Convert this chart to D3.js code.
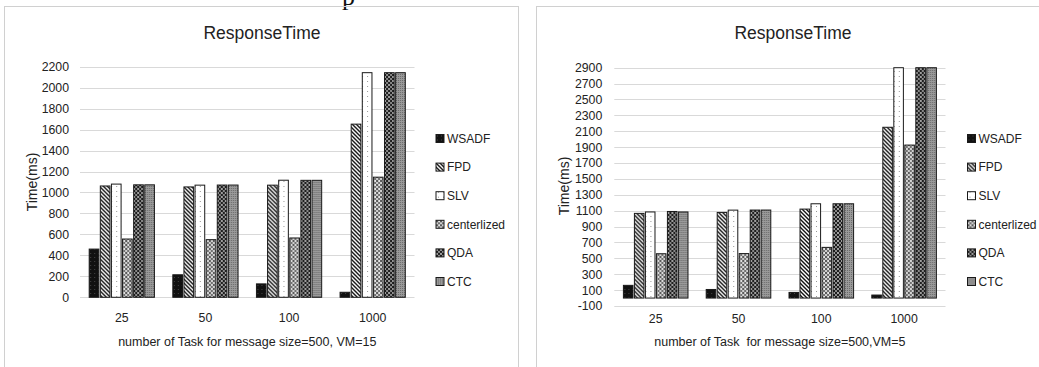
<!DOCTYPE html>
<html>
<head>
<meta charset="utf-8">
<script src="https://cdn.jsdelivr.net/npm/d3@7"></script>
<style>
  body { margin: 0; background: #fff; }
  svg { display: block; font-family: "Liberation Sans", Arial, sans-serif; }
</style>
</head>
<body>
<script>
// categories and series
const categories = ["25", "50", "100", "1000"];
const seriesNames = ["WSADF", "FPD", "SLV", "centerlized", "QDA", "CTC"];

// VM=15 (left chart)
const wsadf15 = [460, 215, 128, 48];
const fpd15 = [1062, 1053, 1070, 1652];
const slv15 = [1080, 1070, 1117, 2143];
const centr15 = [556, 550, 566, 1146];
const qda15 = [1073, 1071, 1116, 2143];
const ctc15 = [1073, 1071, 1116, 2143];
const ticks15 = [0, 200, 400, 600, 800, 1000, 1200, 1400, 1600, 1800, 2000, 2200];

// VM=5 (right chart)
const wsadf5 = [160, 108, 71, 38];
const fpd5 = [1066, 1078, 1120, 2150];
const slv5 = [1084, 1107, 1187, 2900];
const centr5 = [558, 560, 638, 1926];
const qda5 = [1090, 1108, 1187, 2900];
const ctc5 = [1084, 1108, 1187, 2900];
const ticks5 = [-100, 100, 300, 500, 700, 900, 1100, 1300, 1500, 1700, 1900, 2100, 2300, 2500, 2700, 2900];

const W = 1039, H = 367;
const svg = d3.select("body").append("svg")
  .attr("width", W)
  .attr("height", H);

// fill patterns, one per series
const defs = svg.append("defs");

function pat(id, size, bg) {
  const p = defs.append("pattern")
    .attr("id", id)
    .attr("patternUnits", "userSpaceOnUse")
    .attr("width", size).attr("height", size);
  p.append("rect").attr("width", size).attr("height", size).attr("fill", bg);
  return p;
}

// WSADF: black with faint specks
let p = pat("p-wsadf", 4, "#111");
p.append("rect").attr("x", 1).attr("y", 1).attr("width", 1).attr("height", 1).attr("fill", "#444");

// FPD: wide downward diagonal
p = pat("p-fpd", 4, "#fff");
p.append("path")
  .attr("d", "M-1,-1 L5,5 M-1,3 L1,5 M3,-1 L5,1")
  .attr("stroke", "#111").attr("stroke-width", 1.4);

// SLV: white with sparse dots
p = pat("p-slv", 5, "#fff");
p.append("rect").attr("x", 2).attr("y", 1).attr("width", 1).attr("height", 1).attr("fill", "#999");

// centerlized: medium speckle
p = pat("p-centr", 4, "#cfcfcf");
p.append("circle").attr("cx", 1).attr("cy", 1).attr("r", 0.9).attr("fill", "#222");
p.append("circle").attr("cx", 3).attr("cy", 3).attr("r", 0.9).attr("fill", "#444");
p.append("rect").attr("x", 3).attr("y", 0.5).attr("width", 1).attr("height", 1).attr("fill", "#fff");

// QDA: dark with white dots
p = pat("p-qda", 4, "#1e1e1e");
p.append("circle").attr("cx", 1).attr("cy", 1).attr("r", 0.9).attr("fill", "#ddd");
p.append("circle").attr("cx", 3).attr("cy", 3).attr("r", 0.9).attr("fill", "#bbb");

// CTC: fine grey texture
p = pat("p-ctc", 2, "#9a9a9a");
p.append("rect").attr("width", 1).attr("height", 1).attr("fill", "#6a6a6a");

const fills = d3.scaleOrdinal()
  .domain(seriesNames)
  .range(["p-wsadf", "p-fpd", "p-slv", "p-centr", "p-qda", "p-ctc"].map(id => `url(#${id})`));

// cut-off heading fragment above the charts
svg.append("text")
  .attr("x", 342).attr("y", 5)
  .attr("font-family", "Liberation Serif, serif")
  .attr("font-size", 26)
  .attr("fill", "#111")
  .text("p");

function drawChart(cfg) {
  const g = svg.append("g");

  // chart frame
  g.append("rect")
    .attr("x", cfg.frame[0] + 0.5).attr("y", cfg.frame[1] + 0.5)
    .attr("width", cfg.frame[2]).attr("height", cfg.frame[3])
    .attr("fill", "none")
    .attr("stroke", "#d0d0d0");

  const y = d3.scaleLinear().domain(cfg.domain).range([cfg.bottom, cfg.top]);
  const x0 = d3.scaleBand().domain(categories)
    .range([cfg.left, cfg.right])
    .paddingInner(0.22).paddingOuter(0.11);
  const x1 = d3.scaleBand().domain(seriesNames)
    .range([0, x0.bandwidth()])
    .paddingInner(0.13);

  // gridlines
  g.append("g").selectAll("line")
    .data(cfg.ticks)
    .join("line")
    .attr("x1", cfg.left).attr("x2", cfg.right)
    .attr("y1", d => Math.round(y(d)) + 0.5)
    .attr("y2", d => Math.round(y(d)) + 0.5)
    .attr("stroke", "#d9d9d9");

  // y axis labels (plain hyphen for negatives, like the original)
  const yAxis = g.append("g")
    .attr("transform", `translate(${cfg.tickX},0)`)
    .call(d3.axisLeft(y).tickValues(cfg.ticks).tickFormat(d => String(d))
      .tickSize(0).tickPadding(0));
  yAxis.select(".domain").remove();
  yAxis.selectAll("text")
    .attr("font-family", "Liberation Sans, Arial, sans-serif")
    .attr("font-size", 12.3).attr("fill", "#222");

  // x axis labels
  const xAxis = g.append("g")
    .attr("transform", `translate(0,${cfg.catY})`)
    .call(d3.axisBottom(x0).tickSize(0).tickPadding(0));
  xAxis.select(".domain").remove();
  xAxis.selectAll("text")
    .attr("font-family", "Liberation Sans, Arial, sans-serif")
    .attr("font-size", 12.3).attr("fill", "#222");

  // bars
  const rows = categories.map((c, i) => ({
    cat: c,
    vals: seriesNames.map((s, j) => ({ s: s, v: cfg.series[j][i] }))
  }));

  g.append("g").selectAll("g")
    .data(rows)
    .join("g")
    .attr("transform", d => `translate(${x0(d.cat)},0)`)
    .selectAll("rect")
    .data(d => d.vals)
    .join("rect")
    .attr("x", d => x1(d.s))
    .attr("y", d => y(d.v))
    .attr("width", x1.bandwidth())
    .attr("height", d => y(0) - y(d.v))
    .attr("fill", d => fills(d.s))
    .attr("stroke", "#1a1a1a")
    .attr("stroke-width", 1);

  // title
  g.append("text")
    .attr("x", cfg.titleX).attr("y", 39)
    .attr("text-anchor", "middle")
    .attr("font-size", 17.5).attr("fill", "#222")
    .text("ResponseTime");

  // axis titles
  g.append("text")
    .attr("transform", `translate(${cfg.yTitleX},${cfg.yTitleY}) rotate(-90)`)
    .attr("text-anchor", "middle")
    .attr("dy", "0.35em")
    .attr("font-size", 14).attr("fill", "#222")
    .text("Time(ms)");

  g.append("text")
    .attr("x", (cfg.left + cfg.right) / 2).attr("y", 346)
    .attr("text-anchor", "middle")
    .attr("font-size", 12.5).attr("fill", "#222")
    .style("white-space", "pre")
    .text(cfg.xTitle);

  // legend
  const ly = d3.scalePoint().domain(seriesNames).range([138.5, 281.5]);
  const leg = g.append("g").selectAll("g")
    .data(seriesNames)
    .join("g")
    .attr("transform", d => `translate(${cfg.legendX},${ly(d)})`);
  leg.append("rect")
    .attr("x", 0).attr("y", -4)
    .attr("width", 8).attr("height", 8)
    .attr("fill", d => fills(d))
    .attr("stroke", "#1a1a1a");
  leg.append("text")
    .attr("x", 11).attr("dy", "0.35em")
    .attr("font-size", 12).attr("fill", "#222")
    .text(d => d);
}

drawChart({
  frame: [4, 6, 514, 370],
  domain: [0, 2200], ticks: ticks15,
  left: 80, right: 414.5, top: 66.7, bottom: 297.3,
  tickX: 69, catY: 313, titleX: 262,
  yTitleX: 32, yTitleY: 182,
  legendX: 436,
  xTitle: "number of Task for message size=500, VM=15",
  series: [wsadf15, fpd15, slv15, centr15, qda15, ctc15]
});

drawChart({
  frame: [536, 6, 520, 370],
  domain: [-100, 2900], ticks: ticks5,
  left: 614.3, right: 945.5, top: 67.7, bottom: 306,
  tickX: 602.3, catY: 314, titleX: 793,
  yTitleX: 564.5, yTitleY: 186,
  legendX: 967.5,
  xTitle: "number of Task  for message size=500,VM=5",
  series: [wsadf5, fpd5, slv5, centr5, qda5, ctc5]
});
</script>
</body>
</html>
